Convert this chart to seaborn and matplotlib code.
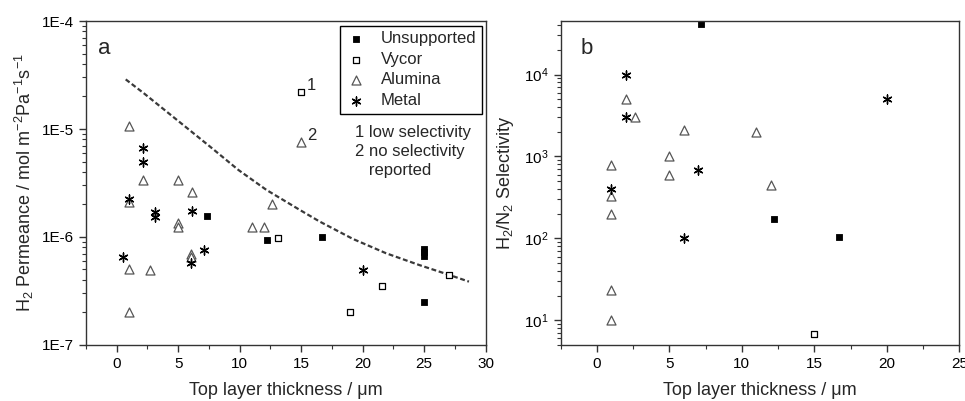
import matplotlib
matplotlib.use("Agg")
import matplotlib.pyplot as plt
import seaborn as sns
import numpy as np
import pandas as pd
from matplotlib.ticker import FixedLocator, LogLocator, NullFormatter, FuncFormatter

# ---------------- data: panel a (H2 permeance vs thickness) ----------------
a_unsup_x = [7.3, 12.2, 16.7, 25.0, 25.0, 25.0, 25.0]
a_unsup_y = [1.56e-6, 9.3e-7, 1.0e-6, 7.7e-7, 7.2e-7, 6.7e-7, 2.5e-7]

a_vycor_x = [15.0, 13.1, 21.6, 19.0, 27.0]
a_vycor_y = [2.2e-5, 9.7e-7, 3.55e-7, 2.0e-7, 4.4e-7]

a_alum_x = [1.0, 2.1, 5.0, 6.1, 12.6, 1.0, 5.0, 5.0, 11.0, 12.0, 6.0, 6.0, 1.0, 2.7, 1.0, 15.0]
a_alum_y = [1.07e-5, 3.4e-6, 3.4e-6, 2.6e-6, 2.0e-6, 2.1e-6, 1.34e-6, 1.25e-6,
            1.23e-6, 1.23e-6, 7.0e-7, 6.5e-7, 5.0e-7, 4.9e-7, 2.0e-7, 7.5e-6]

a_metal_x = [2.1, 2.1, 1.0, 3.1, 3.1, 6.1, 0.5, 7.1, 6.0, 20.0]
a_metal_y = [6.7e-6, 4.9e-6, 2.24e-6, 1.71e-6, 1.52e-6, 1.74e-6, 6.5e-7, 7.5e-7, 5.8e-7, 4.9e-7]

curve_x = [0.73, 2.21, 4.91, 7.6, 9.9, 12.19, 14.89, 16.5, 19.2, 21.9, 24.6, 27.0, 28.64]
curve_y = [2.88e-5, 2.14e-5, 1.21e-5, 6.85e-6, 4.17e-6, 2.72e-6, 1.78e-6, 1.39e-6,
           9.6e-7, 7.07e-7, 5.5e-7, 4.47e-7, 3.86e-7]

# ---------------- data: panel b (H2/N2 selectivity vs thickness) ----------------
b_unsup_x = [7.2, 12.2, 16.7]
b_unsup_y = [41000, 171, 104]

b_vycor_x = [15.0]
b_vycor_y = [6.9]

b_alum_x = [2.0, 2.6, 6.0, 11.0, 5.0, 5.0, 1.0, 12.0, 1.0, 1.0, 1.0, 1.0]
b_alum_y = [5000, 3000, 2100, 2000, 1000, 600, 790, 450, 325, 200, 23.5, 10.2]

b_metal_x = [2.0, 2.0, 20.0, 7.0, 1.0, 6.0]
b_metal_y = [10000, 3000, 5000, 690, 400, 100]

legend_labels = ["Unsupported", "Vycor", "Alumina", "Metal"]
a_xticks = [0, 5, 10, 15, 20, 25, 30]
b_xticks = [0, 5, 10, 15, 20, 25]
a_ytick_labels = ["1E-7", "1E-6", "1E-5", "1E-4"]

# ---------------- style ----------------
sns.set_style("ticks")
plt.rcParams["font.family"] = ["Liberation Sans", "DejaVu Sans"]
plt.rcParams["mathtext.fontset"] = "custom"
plt.rcParams["mathtext.rm"] = "Liberation Sans"
plt.rcParams["mathtext.it"] = "Liberation Sans:italic"
plt.rcParams["mathtext.bf"] = "Liberation Sans:bold"
plt.rcParams["axes.edgecolor"] = "#333333"
plt.rcParams["axes.linewidth"] = 1.0
plt.rcParams["xtick.color"] = "#333333"
plt.rcParams["ytick.color"] = "#333333"
plt.rcParams["xtick.labelcolor"] = "black"
plt.rcParams["ytick.labelcolor"] = "black"

fig = plt.figure(figsize=(9.65, 4.01), dpi=100)
axa = fig.add_axes([0.0891, 0.1397, 0.4142, 0.8079])
axb = fig.add_axes([0.5810, 0.1397, 0.4131, 0.8079])

star = (6, 2, 0)
tri_col = "#555555"


def draw_series(ax, ux, uy, vx, vy, ax_x, ax_y, mx, my, with_labels):
    sns.scatterplot(x=ux, y=uy, ax=ax, marker="s", s=15, color="black",
                    edgecolor="black", linewidth=0.6,
                    label=legend_labels[0] if with_labels else None)
    sns.scatterplot(x=vx, y=vy, ax=ax, marker="s", s=17, facecolor="white",
                    edgecolor="black", linewidth=0.9,
                    label=legend_labels[1] if with_labels else None)
    sns.scatterplot(x=ax_x, y=ax_y, ax=ax, marker="^", s=42, facecolor="white",
                    edgecolor=tri_col, linewidth=0.9,
                    label=legend_labels[2] if with_labels else None)
    sns.scatterplot(x=mx, y=my, ax=ax, marker=star, s=42, color="black",
                    linewidth=1.0,
                    label=legend_labels[3] if with_labels else None)


# ---------- panel a ----------
sns.lineplot(x=curve_x, y=curve_y, ax=axa, color="#3a3a3a", linewidth=1.6,
             linestyle=(0, (2.2, 1.2)), zorder=1)
draw_series(axa, a_unsup_x, a_unsup_y, a_vycor_x, a_vycor_y,
            a_alum_x, a_alum_y, a_metal_x, a_metal_y, True)
axa.set_yscale("log")
axa.set_xlim(-2.5, 30)
axa.set_ylim(1e-7, 1e-4)
axa.set_xticks(a_xticks)
axa.set_xticks(np.arange(-2.5, 30.1, 5), minor=True)
axa.yaxis.set_major_locator(FixedLocator([1e-7, 1e-6, 1e-5, 1e-4]))
axa.set_yticklabels(a_ytick_labels)
axa.yaxis.set_minor_locator(LogLocator(base=10, subs=np.arange(2, 10)))
axa.yaxis.set_minor_formatter(NullFormatter())
axa.set_xlabel("Top layer thickness / \u03bcm", fontsize=13, labelpad=8)
axa.set_ylabel(r"H$_2$ Permeance / mol m$^{-2}$Pa$^{-1}$s$^{-1}$", fontsize=13, labelpad=4)

leg = axa.legend(loc="upper right", bbox_to_anchor=(0.992, 0.986), fontsize=12,
                 frameon=True, fancybox=False, edgecolor="black", framealpha=1,
                 handletextpad=0.9, labelspacing=0.33, borderpad=0.35,
                 handlelength=1.2, borderaxespad=0)
leg.get_frame().set_linewidth(1.0)

axa.text(0.031, 0.915, "a", transform=axa.transAxes, fontsize=16, va="center", ha="left")
axa.text(0.672, 0.68, "1 low selectivity\n2 no selectivity\n   reported",
         transform=axa.transAxes, fontsize=12, va="top", ha="left", linespacing=1.33)
axa.annotate("1", xy=(a_vycor_x[0], a_vycor_y[0]), xytext=(4, 5),
             textcoords="offset points", fontsize=12, va="center", ha="left")
axa.annotate("2", xy=(a_alum_x[-1], a_alum_y[-1]), xytext=(4, 5),
             textcoords="offset points", fontsize=12, va="center", ha="left")

# ---------- panel b ----------
draw_series(axb, b_unsup_x, b_unsup_y, b_vycor_x, b_vycor_y,
            b_alum_x, b_alum_y, b_metal_x, b_metal_y, False)
axb.set_yscale("log")
axb.set_xlim(-2.5, 25)
axb.set_ylim(5, 4.5e4)
axb.set_xticks(b_xticks)
axb.set_xticks(np.arange(-2.5, 25.1, 5), minor=True)
axb.yaxis.set_major_locator(FixedLocator([10, 100, 1000, 10000]))
axb.yaxis.set_major_formatter(FuncFormatter(lambda v, p: r"10$^{%d}$" % int(round(np.log10(v)))))
axb.yaxis.set_minor_locator(LogLocator(base=10, subs=np.arange(2, 10)))
axb.yaxis.set_minor_formatter(NullFormatter())
axb.set_xlabel("Top layer thickness / \u03bcm", fontsize=13, labelpad=8)
axb.set_ylabel(r"H$_2$/N$_2$ Selectivity", fontsize=13, labelpad=6)
axb.text(0.05, 0.915, "b", transform=axb.transAxes, fontsize=16, va="center", ha="left")

for ax in (axa, axb):
    ax.tick_params(axis="both", which="major", direction="out", length=5, width=1.0,
                   labelsize=11, top=False, right=False)
    ax.tick_params(axis="both", which="minor", direction="out", length=3, width=0.8,
                   top=False, right=False)
    for sp in ax.spines.values():
        sp.set_visible(True)

fig.savefig("out.png", dpi=100)
